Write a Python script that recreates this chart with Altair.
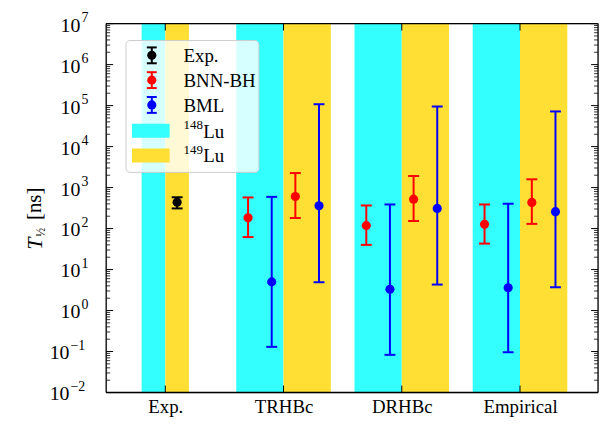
import json
import altair as alt
import pandas as pd

# ---------------- data ----------------
categories = ["Exp.", "TRHBc", "DRHBc", "Empirical"]
band_halfwidth = [0.2, 0.4, 0.4, 0.4]
isotopes = ["148Lu", "149Lu"]
iso_colors = ["#33ffff", "#ffdf33"]

series_names = ["Exp.", "BNN-BH", "BML"]
series_colors = ["#000000", "#ff0000", "#0000ff"]

exp_val, exp_lo, exp_hi = [440], [310], [580]

bnn_148 = [184, 118, 127]
bnn_148_lo = [62, 40, 43]
bnn_148_hi = [574, 366, 387]
bnn_149 = [606, 521, 434]
bnn_149_lo = [181, 153, 130]
bnn_149_hi = [2260, 1913, 1590]

bml_148 = [5.0, 3.3, 3.6]
bml_148_lo = [0.13, 0.083, 0.096]
bml_148_hi = [593, 387, 403]
bml_149 = [359, 310, 258]
bml_149_lo = [4.9, 4.3, 3.7]
bml_149_hi = [1.08e5, 9.5e4, 7.2e4]

y_major = [1e-2, 1e-1, 1e0, 1e1, 1e2, 1e3, 1e4, 1e5, 1e6, 1e7]
y_exponents = ["\u22122", "\u22121", "0", "1", "2", "3", "4", "5", "6", "7"]
y_base = "10"

legend_labels = ["Exp.", "BNN-BH", "BML"]
legend_iso_mass = ["148", "149"]
legend_iso_sym = "Lu"

# ---------------- layout ----------------
W, H = 496, 372
FONT = "Liberation Serif"
XDOM = [-0.5, 3.66]

# ---------------- tables ----------------
bands = []
for i, c in enumerate(categories):
    hw = band_halfwidth[i]
    bands.append({"x1": i - hw, "x2": i, "iso": isotopes[0]})
    bands.append({"x1": i, "x2": i + hw, "iso": isotopes[1]})
bands = pd.DataFrame(bands)

rows = [{"x": 0 + 0.1, "y": exp_val[0], "lo": exp_lo[0], "hi": exp_hi[0], "s": "Exp."}]
slots = [(-0.3, "BNN-BH", bnn_148, bnn_148_lo, bnn_148_hi),
         (-0.1, "BML", bml_148, bml_148_lo, bml_148_hi),
         (0.1, "BNN-BH", bnn_149, bnn_149_lo, bnn_149_hi),
         (0.3, "BML", bml_149, bml_149_lo, bml_149_hi)]
for off, s, v, lo, hi in slots:
    for k in range(3):
        rows.append({"x": k + 1 + off, "y": v[k], "lo": lo[k], "hi": hi[k], "s": s})
pts = pd.DataFrame(rows)

minor = []
for d in range(-2, 7):
    for m in range(2, 10):
        minor.append(m * 10.0 ** d)
ymaj_df = pd.DataFrame({"v": y_major, "e": y_exponents, "b": [y_base] * len(y_major)})
ymin_df = pd.DataFrame({"v": minor})
xt_df = pd.DataFrame({"v": list(range(len(categories)))})

xscale = alt.Scale(domain=XDOM, nice=False, zero=False)
yscale = alt.Scale(type="log", domain=[y_major[0], y_major[-1]], nice=False)
cscale = alt.Scale(domain=series_names, range=series_colors)

cat_js = json.dumps(categories)
xaxis = alt.Axis(values=list(range(len(categories))), labelExpr=f"{cat_js}[datum.value]",
                 tickSize=0, domain=False, grid=False, labelFont=FONT, labelFontSize=19,
                 labelColor="black", labelPadding=5, title=None)

def Y(field):
    return alt.Y(field, scale=yscale, axis=None)

# ---------------- layers ----------------
band_layer = alt.Chart(bands).mark_rect(opacity=1).encode(
    x=alt.X("x1:Q", scale=xscale, axis=xaxis, title=None),
    x2="x2:Q",
    y=alt.value(0), y2=alt.value(H),
    color=alt.Color("iso:N", scale=alt.Scale(domain=isotopes, range=iso_colors), legend=None),
)

# y tick labels: "10" + superscript exponent, right-aligned as a whole
ylab_base = alt.Chart(ymaj_df).transform_calculate(
    bx="length(datum.e) > 1 ? -37 : -26"
).mark_text(font=FONT, fontSize=20, align="right", baseline="middle", color="black", dy=2).encode(
    y=Y("v:Q"), x=alt.X("bx:Q", scale=None), text="b:N")
ylab_exp = alt.Chart(ymaj_df).transform_calculate(
    ex="length(datum.e) > 1 ? -36 : -25"
).mark_text(font=FONT, fontSize=14, align="left", baseline="middle", color="black", dy=-6).encode(
    y=Y("v:Q"), x=alt.X("ex:Q", scale=None), text="e:N")

err = alt.Chart(pts).mark_rule(strokeWidth=2).encode(
    x=alt.X("x:Q", scale=xscale, title=None),
    y=Y("lo:Q"), y2="hi:Q",
    color=alt.Color("s:N", scale=cscale, legend=None),
)
cap_lo = alt.Chart(pts).mark_point(shape="M-1,0L1,0", size=121, filled=False, strokeWidth=2, opacity=1).encode(
    x=alt.X("x:Q", scale=xscale, title=None),
    y=Y("lo:Q"),
    color=alt.Color("s:N", scale=cscale, legend=None),
)
cap_hi = cap_lo.encode(y=Y("hi:Q"))
dots = alt.Chart(pts).mark_point(shape="circle", size=85, filled=True, opacity=1).encode(
    x=alt.X("x:Q", scale=xscale, title=None),
    y=Y("y:Q"),
    color=alt.Color("s:N", scale=cscale, legend=None),
)

# inward ticks
TICK_MAJ, TICK_MIN = 7, 4
ticks = [
    alt.Chart(ymaj_df).mark_rule(color="black", strokeWidth=1).encode(
        y=Y("v:Q"), x=alt.value(0), x2=alt.value(TICK_MAJ)),
    alt.Chart(ymaj_df).mark_rule(color="black", strokeWidth=1).encode(
        y=Y("v:Q"), x=alt.value(W - TICK_MAJ), x2=alt.value(W)),
    alt.Chart(ymin_df).mark_rule(color="black", strokeWidth=0.8).encode(
        y=Y("v:Q"), x=alt.value(0), x2=alt.value(TICK_MIN)),
    alt.Chart(ymin_df).mark_rule(color="black", strokeWidth=0.8).encode(
        y=Y("v:Q"), x=alt.value(W - TICK_MIN), x2=alt.value(W)),
    alt.Chart(xt_df).mark_rule(color="black", strokeWidth=1).encode(
        x=alt.X("v:Q", scale=xscale, title=None), y=alt.value(H - TICK_MAJ), y2=alt.value(H)),
    alt.Chart(xt_df).mark_rule(color="black", strokeWidth=1).encode(
        x=alt.X("v:Q", scale=xscale, title=None), y=alt.value(0), y2=alt.value(TICK_MAJ)),
]

one = pd.DataFrame({"a": [0]})
frame = [
    alt.Chart(one).mark_rule(color="black", strokeWidth=1.3).encode(
        x=alt.value(0), x2=alt.value(W), y=alt.value(0)),
    alt.Chart(one).mark_rule(color="black", strokeWidth=1.3).encode(
        x=alt.value(0), x2=alt.value(W), y=alt.value(H)),
    alt.Chart(one).mark_rule(color="black", strokeWidth=1.3).encode(
        x=alt.value(0), y=alt.value(0), y2=alt.value(H)),
    alt.Chart(one).mark_rule(color="black", strokeWidth=1.3).encode(
        x=alt.value(W), y=alt.value(0), y2=alt.value(H)),
]

# legend
LX0, LX1, LY0, LY1 = 20, 154, 17, 150
leg = [alt.Chart(one).mark_rect(fill="white", fillOpacity=0.8, stroke="#cccccc",
                                strokeWidth=1, cornerRadius=4).encode(
    x=alt.value(LX0), x2=alt.value(LX1), y=alt.value(LY0), y2=alt.value(LY1))]
ICON_X, TEXT_X, ROW0, ROWH = 46, 78, 32, 25
for i, lab in enumerate(legend_labels):
    yy = ROW0 + ROWH * i
    col = series_colors[i]
    leg += [
        alt.Chart(one).mark_rule(color=col, strokeWidth=2).encode(
            x=alt.value(ICON_X), y=alt.value(yy - 8), y2=alt.value(yy + 8)),
        alt.Chart(one).mark_rule(color=col, strokeWidth=2).encode(
            x=alt.value(ICON_X - 5), x2=alt.value(ICON_X + 5), y=alt.value(yy - 8)),
        alt.Chart(one).mark_rule(color=col, strokeWidth=2).encode(
            x=alt.value(ICON_X - 5), x2=alt.value(ICON_X + 5), y=alt.value(yy + 8)),
        alt.Chart(one).mark_point(shape="circle", size=85, filled=True, color=col, opacity=1).encode(
            x=alt.value(ICON_X), y=alt.value(yy)),
        alt.Chart(one).mark_text(text=lab, font=FONT, fontSize=19, align="left",
                                 baseline="middle", color="black").encode(
            x=alt.value(TEXT_X), y=alt.value(yy + 1)),
    ]
for j, mass in enumerate(legend_iso_mass):
    yy = ROW0 + ROWH * (3 + j) + 1
    leg += [
        alt.Chart(one).mark_rect(color=iso_colors[j], opacity=1).encode(
            x=alt.value(26), x2=alt.value(64), y=alt.value(yy - 7), y2=alt.value(yy + 7)),
        alt.Chart(one).mark_text(text=mass, font=FONT, fontSize=13, align="left",
                                 baseline="middle", color="black").encode(
            x=alt.value(TEXT_X), y=alt.value(yy - 6)),
        alt.Chart(one).mark_text(text=legend_iso_sym, font=FONT, fontSize=19, align="left",
                                 baseline="middle", color="black").encode(
            x=alt.value(TEXT_X + 20), y=alt.value(yy + 1)),
    ]

# y-axis title  T_{1/2} [ns]
TX = -72
ytitle = [
    alt.Chart(one).mark_text(text="T", font=FONT, fontSize=22, fontStyle="italic", angle=270,
                             align="left", baseline="middle", color="black").encode(
        x=alt.value(TX), y=alt.value(228)),
    alt.Chart(one).mark_text(text="\u00bd", font=FONT, fontSize=12, angle=270,
                             align="left", baseline="middle", color="black").encode(
        x=alt.value(TX + 6), y=alt.value(215)),
    alt.Chart(one).mark_text(text="[ns]", font=FONT, fontSize=21, angle=270,
                             align="left", baseline="middle", color="black").encode(
        x=alt.value(TX), y=alt.value(198)),
]

chart = alt.layer(
    band_layer, ylab_base, ylab_exp, err, cap_lo, cap_hi, dots, *ticks, *frame, *leg, *ytitle
).resolve_scale(color="independent").properties(
    width=W, height=H,
    autosize=alt.AutoSizeParams(type="none"),
    padding={"left": 99, "top": 14, "right": 5, "bottom": 30},
).configure_view(stroke=None).configure(background="white")

chart.save("out.html", embed_options={"renderer": "svg", "actions": False})
